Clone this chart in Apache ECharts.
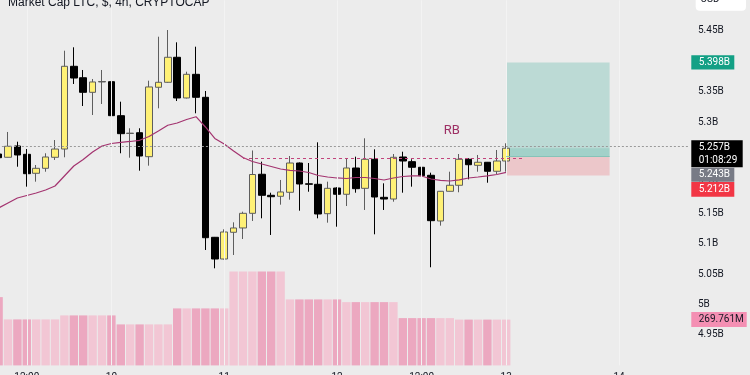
<!DOCTYPE html>
<html><head><meta charset="utf-8">
<script src="https://cdn.jsdelivr.net/npm/echarts@6/dist/echarts.min.js"></script>
<style>html,body{margin:0;padding:0;background:#ececec}#c{width:750px;height:375px}</style>
</head><body><div id="c"></div>
<script>
// ---- data ----
const opens  = [5.2475,5.2421,5.2607,5.2470,5.2158,5.2240,5.2421,5.2557,5.3917,5.3729,5.3489,5.3659,5.3664,5.3105,5.2812,5.2825,5.2431,5.3572,5.3654,5.4065,5.3396,5.3785,5.3407,5.1106,5.0749,5.1188,5.1259,5.1500,5.2142,5.1796,5.1780,5.1846,5.2327,5.1985,5.1977,5.1494,5.1916,5.1813,5.2245,5.1911,5.2388,5.1763,5.1735,5.2426,5.2349,5.2257,5.2125,5.1374,5.1862,5.1961,5.2388,5.2289,5.2339,5.2191,5.2360];
const closes = [5.2414,5.2602,5.2459,5.2151,5.2240,5.2426,5.2557,5.3917,5.3724,5.3489,5.3659,5.3667,5.3105,5.2809,5.2818,5.2442,5.3577,5.3654,5.4065,5.3396,5.3785,5.3407,5.1099,5.0749,5.1193,5.1259,5.1500,5.2138,5.1796,5.1773,5.1851,5.2327,5.1982,5.1978,5.1489,5.1911,5.1813,5.2245,5.1905,5.2388,5.1768,5.1735,5.2421,5.2360,5.2257,5.2118,5.1379,5.1862,5.1961,5.2388,5.2299,5.2339,5.2191,5.2360,5.2570];
const lows   = [5.2376,5.2418,5.2266,5.1938,5.2020,5.2184,5.2377,5.2421,5.3626,5.3264,5.3116,5.3297,5.2968,5.2487,5.2414,5.2201,5.2283,5.3226,5.3646,5.3346,5.3388,5.3144,5.0897,5.0596,5.0741,5.0815,5.1078,5.1374,5.1418,5.1144,5.1642,5.1724,5.1543,5.1855,5.1418,5.1346,5.1280,5.1620,5.1839,5.1555,5.1155,5.1555,5.1691,5.1839,5.1938,5.1829,5.0613,5.1297,5.1859,5.1846,5.2059,5.2184,5.2003,5.2146,5.2184];
const highs  = [5.2508,5.2837,5.2677,5.2557,5.2294,5.2487,5.2705,5.4173,5.4229,5.3856,5.3708,5.3856,5.3762,5.3335,5.2898,5.2898,5.3680,5.4403,5.4513,5.4311,5.3828,5.4239,5.3511,5.1111,5.1237,5.1352,5.1527,5.2533,5.2349,5.1839,5.2048,5.2442,5.2336,5.2327,5.2667,5.2020,5.1928,5.2398,5.2431,5.2733,5.2552,5.1993,5.2475,5.2513,5.2388,5.2322,5.2168,5.1867,5.2184,5.2475,5.2405,5.2459,5.2344,5.2541,5.2651];
const maValues = [5.1587,5.1670,5.1752,5.1793,5.1834,5.1883,5.1949,5.2114,5.2278,5.2385,5.2508,5.2607,5.2648,5.2667,5.2681,5.2700,5.2763,5.2853,5.2947,5.2985,5.3042,5.3088,5.2919,5.2730,5.2640,5.2525,5.2418,5.2352,5.2311,5.2270,5.2229,5.2207,5.2196,5.2171,5.2122,5.2097,5.2081,5.2072,5.2089,5.2089,5.2072,5.2048,5.2081,5.2105,5.2117,5.2114,5.2064,5.2043,5.2031,5.2051,5.2081,5.2097,5.2114,5.2138,5.2174];
const volumes = [402.3,271.0,271.0,271.0,271.0,271.0,271.0,294.5,294.5,294.5,294.5,294.5,294.5,241.5,241.5,241.5,241.5,241.5,241.5,335.8,335.8,335.8,335.8,335.8,335.8,553.7,553.7,553.7,553.7,553.7,553.7,388.8,388.8,388.8,388.8,388.8,388.8,372.9,372.9,372.9,372.9,372.9,372.9,278.6,278.6,278.6,278.6,278.6,278.6,269.761,269.761,269.761,269.761,269.761,269.761];
const tickIndex = [3,12,24,36,45,54,66];
const tickText = ['12:00','10','11','12','12:00','13','14'];
const targetPrice = 5.398, entryPrice = 5.243, stopPrice = 5.212;
const rbLevel = 5.24;
const countdown = '01:08:29';
const totalSlots = 74;
const posStart = 54, posEnd = 65, rbStart = 26, rbEnd = 56, rbLabelIdx = 48, rbLabelValue = 5.285;

// ---- build ----
const categories = Array.from({length: totalSlots}, (_, i) => String(i));
const xLabels = categories.map((_, i) => { const k = tickIndex.indexOf(i); return k >= 0 ? tickText[k] : ''; });
const candleData = opens.map((o, i) => [o, closes[i], lows[i], highs[i]]);
const volData = volumes.map((v, i) => ({ value: v, itemStyle: { color: closes[i] >= opens[i] ? '#f2c6d4' : '#eca8c0' } }));
const lastClose = closes[closes.length - 1];
const lastVol = volumes[volumes.length - 1];
const fmt = v => parseFloat(v.toFixed(3)) + 'B';

const chart = echarts.init(document.getElementById('c'));
const option = {
  backgroundColor: '#ececec',
  animation: false,
  title: { text: 'Market Cap LTC, $, 4h, CRYPTOCAP', left: 8, top: -3.5, padding: 0,
    textStyle: { fontFamily: 'Liberation Sans', fontSize: 12, fontWeight: 'normal', color: '#131722' } },
  grid: { left: -6.1, right: 60.5, top: 0.4, bottom: 9.6, containLabel: false, outerBoundsMode: 'none' },
  xAxis: { type: 'category', data: categories, boundaryGap: true,
    axisLine: { show: false }, axisTick: { show: false }, splitLine: { show: false },
    axisLabel: { interval: 0, margin: 7.5, formatter: (v, i) => xLabels[i], fontSize: 10, color: '#131722', fontFamily: 'Roboto' } },
  yAxis: [
    { type: 'value', position: 'right', min: 4.9, max: 5.5, interval: 0.05,
      axisLine: { show: false }, axisTick: { show: false }, splitLine: { show: false },
      axisLabel: { margin: 8.5, fontSize: 10, color: '#131722', fontFamily: 'Roboto', showMinLabel: false, showMaxLabel: false, formatter: fmt } },
    { type: 'value', min: 0, max: 2150, show: false }
  ],
  series: [
    { type: 'line', data: [], z: 0, silent: true,
      markLine: { silent: true, symbol: 'none', label: { show: false },
        lineStyle: { color: '#f3f3f3', width: 1, type: 'solid' },
        data: tickIndex.map(i => ({ xAxis: i })) } },
    { type: 'bar', yAxisIndex: 1, data: volData, barWidth: 8.4, z: 1, silent: true },
    { type: 'line', data: [], z: 2, silent: true,
      markArea: { silent: true, data: [
        [{ coord: [posStart, targetPrice], itemStyle: { color: 'rgba(8,153,129,0.21)' } }, { coord: [posEnd, entryPrice] }],
        [{ coord: [posStart, entryPrice], itemStyle: { color: 'rgba(242,54,69,0.2)' } }, { coord: [posEnd, stopPrice] }],
        [{ coord: [posStart, lastClose], itemStyle: { color: 'rgba(8,153,129,0.14)' } }, { coord: [posEnd, entryPrice] }]
      ] },
      markLine: { silent: true, symbol: 'none', label: { show: false },
        data: [[{ coord: [posStart, entryPrice], lineStyle: { color: '#86c3b8', width: 1, type: 'solid' } }, { coord: [posEnd, entryPrice] }]] } },
    { type: 'candlestick', data: candleData, barWidth: 7, z: 3, silent: true,
      itemStyle: { color: '#fff176', color0: '#000000', borderColor: '#5e5e5e', borderColor0: '#000000', borderWidth: 1 },
      markLine: { silent: true, symbol: 'none', label: { show: false },
        lineStyle: { color: '#9a9a9a', width: 1, type: [2, 2] },
        data: [{ yAxis: lastClose }] } },
    { type: 'line', data: maValues, z: 4, symbol: 'none', silent: true,
      lineStyle: { color: '#a3336f', width: 1.2 },
      markLine: { silent: true, symbol: 'none', label: { show: false },
        data: [[{ coord: [rbStart, rbLevel], lineStyle: { color: '#c2447c', width: 1, type: [3, 3] } }, { coord: [rbEnd, rbLevel] }]] },
      markPoint: { silent: true, symbol: 'rect', symbolSize: 1, itemStyle: { color: 'rgba(0,0,0,0)' },
        label: { show: true, position: 'inside', formatter: 'RB', color: '#9d2f64', fontSize: 13, fontFamily: 'Roboto', offset: [2, 0] },
        data: [{ coord: [rbLabelIdx, rbLabelValue] }] } }
  ]
};
chart.setOption(option);

const yAt = v => chart.convertToPixel({ yAxisIndex: 0 }, v);
const volY = chart.convertToPixel({ yAxisIndex: 1 }, lastVol);
const bx = 691.3;
const els = [];
function box(x, y, w, h, fill, lines, color) {
  els.push({ type: 'rect', shape: { x, y, width: w, height: h }, style: { fill }, z: 100 });
  lines.forEach(l => els.push({ type: 'text', z: 101,
    style: { text: l[0], x: x + 7.4, y: l[1], fill: color, font: '10px Roboto', verticalAlign: 'middle', align: 'left' } }));
}
const gy = yAt(targetPrice);
box(bx, gy - 7.2, 43, 14.3, '#13a085', [[fmt(targetPrice), gy]], '#ffffff');
const blackTop = yAt(lastClose) - 7.9;
box(bx, blackTop, 51.4, 27, '#000000', [[fmt(lastClose), blackTop + 7.2], [countdown, blackTop + 19.7]], '#ffffff');
const grayTop = blackTop + 27.4;
box(bx, grayTop, 43, 14, '#787b86', [[fmt(entryPrice), grayTop + 7]], '#ffffff');
const redTop = grayTop + 14.3;
box(bx, redTop, 43, 14.7, '#f23645', [[fmt(stopPrice), redTop + 7.3]], '#ffffff');
box(bx, volY - 7.5, 55.4, 15, '#f48fb3', [[lastVol.toFixed(3) + 'M', volY]], '#131722');
els.push({ type: 'rect', shape: { x: 695.7, y: -6, width: 50.3, height: 16.7, r: 4 }, style: { fill: '#ffffff' }, z: 100 });
els.push({ type: 'text', z: 101, style: { text: 'USD', x: 710, y: -0.8, fill: '#131722', font: '10px Roboto', align: 'center', verticalAlign: 'middle' } });
chart.setOption({ graphic: els });
</script></body></html>
